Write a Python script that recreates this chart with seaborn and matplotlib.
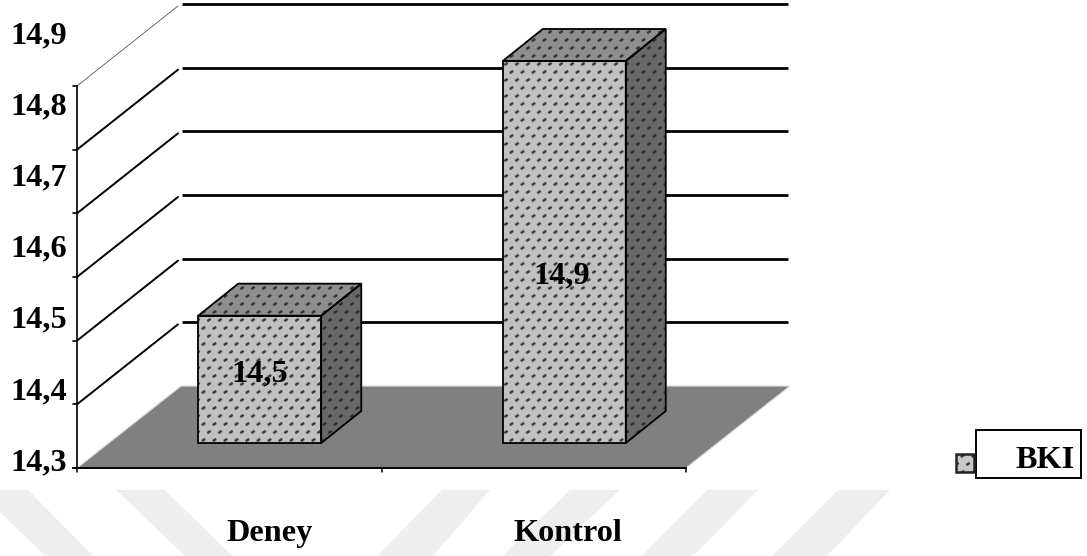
import numpy as np
import matplotlib
matplotlib.use("Agg")
import matplotlib.pyplot as plt
import seaborn as sns
from matplotlib.collections import LineCollection
from matplotlib.patches import Polygon, Rectangle
from matplotlib.transforms import Affine2D

groups = ["Deney", "Kontrol"]
bki_values = [14.5, 14.9]
axis_ticks = [14.3, 14.4, 14.5, 14.6, 14.7, 14.8, 14.9]
legend_label = "BKI"

WIDTH, HEIGHT = 1087, 556
BASE = axis_ticks[0]
SERIF = "Liberation Serif"
FONT_SIZE = 23.2

sns.set_theme(style="white")
plt.rcParams["font.family"] = [SERIF, "DejaVu Sans"]

fig = plt.figure(figsize=(WIDTH / 100, HEIGHT / 100), dpi=100, facecolor="white")
# Layout helper: pixel coordinates measured from the top-left corner.
PX = Affine2D().scale(1, -1).translate(0, HEIGHT)

# Front plane of the 3D box: x axis runs 77..686, values run 468..86 (pixels from top).
ax = fig.add_axes([77 / WIDTH, (HEIGHT - 468) / HEIGHT, 609 / WIDTH, 382 / HEIGHT])
ax.set_facecolor("none")


def add_px(artist):
    artist.set_transform(PX)
    fig.add_artist(artist)
    return artist


# Diagonal watermark bands along the lower edge of the page.
band_shapes = [
    [(0, 490), (28, 490), (93, 556), (45, 556), (0, 512)],
    [(116, 490), (165, 490), (232, 556), (185, 556)],
    [(442, 490), (490, 490), (433, 556), (377, 556)],
    [(570, 490), (620, 490), (550, 556), (502, 556)],
    [(707, 490), (758, 490), (693, 556), (642, 556)],
    [(838, 490), (890, 490), (827, 556), (772, 556)],
]
for shape in band_shapes:
    add_px(Polygon(shape, closed=True, facecolor="#eeeeee", edgecolor="none", zorder=0))

# The bars sit partway into the box, so they are shifted from the front plane.
BAR_SHIFT = (30.5, 25)
BAR_DEPTH = (40, 32)
sns.barplot(x=groups, y=np.array(bki_values) - BASE, bottom=BASE, ax=ax, width=0.404,
            color="#bfbfbf", saturation=1, edgecolor="black", linewidth=1.4)
ax.set_xlim(-0.5, 1.5)
ax.set_ylim(axis_ticks[0], axis_ticks[-1])
ax.axis("off")

# Floor of the box.
WALL_DX, WALL_DY = 104, 82
front_y = HEIGHT - ax.transData.transform([(0, t) for t in axis_ticks])[:, 1]
floor_y = front_y[0]
add_px(Polygon([(77, floor_y), (77 + WALL_DX, floor_y - WALL_DY),
                (790, floor_y - WALL_DY), (686, floor_y)],
               closed=True, facecolor="#808080", edgecolor="#dcdcdc", linewidth=0.9, zorder=1))

# Side wall diagonals and back-wall gridlines, one per tick.
for i, (value, y) in enumerate(zip(axis_ticks, front_y)):
    if i == 0:
        continue
    is_top = value == axis_ticks[-1]
    add_px(plt.Line2D([77, 77 + WALL_DX - 3], [y, y - WALL_DY + 2],
                      color="#555555" if is_top else "black",
                      lw=0.6 if is_top else 1.4, zorder=2))
    add_px(plt.Line2D([77 + WALL_DX + 1, 788], [y - WALL_DY, y - WALL_DY],
                      color="black", lw=2.0, solid_capstyle="butt", zorder=2))

# Value axis, category axis and their tick marks.
add_px(plt.Line2D([77, 77], [front_y[-1], floor_y], color="black", lw=1.2, zorder=5))
add_px(plt.Line2D([73, 686], [floor_y, floor_y], color="black", lw=1.4, zorder=5))
for y in front_y:
    add_px(plt.Line2D([73, 77], [y, y], color="black", lw=1.2, zorder=5))
for x in (77, 381.5, 686):
    add_px(plt.Line2D([x, x], [floor_y, floor_y + 4], color="black", lw=1.1, zorder=5))

# Repeating pattern of short slanted dashes used on every bar face.
rows = np.arange(0, HEIGHT, 8.0)
dash_segments = []
for r, row_y in enumerate(rows):
    for col_x in np.arange(5.5 * (r % 2), WIDTH, 11):
        dash_segments.append([(col_x - 1.7, row_y + 1.1), (col_x + 1.7, row_y - 1.1)])


def stipple(face, color="#262626", zorder=6):
    dots = LineCollection(dash_segments, colors=color, linewidths=1.8, alpha=0.85,
                          transform=PX, zorder=zorder)
    fig.add_artist(dots)
    dots.set_clip_path(face)


for patch in list(ax.patches):
    patch.set_visible(False)
    (x0, y_top), (x1, y_bot) = ax.transData.transform(
        [(patch.get_x(), patch.get_y() + patch.get_height()),
         (patch.get_x() + patch.get_width(), patch.get_y())])
    x0, x1 = x0 + BAR_SHIFT[0], x1 + BAR_SHIFT[0]
    y_top, y_bot = HEIGHT - y_top - BAR_SHIFT[1], HEIGHT - y_bot - BAR_SHIFT[1]
    dx, dy = BAR_DEPTH
    front = [(x0, y_top), (x1, y_top), (x1, y_bot), (x0, y_bot)]
    top = [(x0, y_top), (x1, y_top), (x1 + dx, y_top - dy), (x0 + dx, y_top - dy)]
    side = [(x1, y_top), (x1 + dx, y_top - dy), (x1 + dx, y_bot - dy), (x1, y_bot)]
    for corners, shade in ((top, "#8e8e8e"), (side, "#686868"), (front, "#c0c0c0")):
        face = add_px(Polygon(corners, closed=True, facecolor=shade, edgecolor="none", zorder=5.5))
        stipple(face)
        add_px(Polygon(corners, closed=True, facecolor="none", edgecolor="black",
                       linewidth=1.3, joinstyle="miter", zorder=6.5))

# Value labels printed on the bars.
value_label_px = [(260, 381), (562, 283)]
for value, (x, y) in zip(bki_values, value_label_px):
    fig.text(x / WIDTH, 1 - y / HEIGHT, f"{value:.1f}".replace(".", ","), ha="center", va="baseline",
             fontsize=FONT_SIZE, fontweight="bold", color="black", family=SERIF, zorder=8)

# Axis labels are spread wider than the tick marks they name.
for i, value in enumerate(reversed(axis_ticks)):
    fig.text(10 / WIDTH, 1 - (43 + 71.2 * i) / HEIGHT, f"{value:.1f}".replace(".", ","),
             ha="left", va="baseline", fontsize=FONT_SIZE, fontweight="bold",
             color="black", family=SERIF, zorder=8)

for name, x in zip(groups, (270, 568)):
    fig.text(x / WIDTH, 1 - 541 / HEIGHT, name, ha="center", va="baseline",
             fontsize=FONT_SIZE, fontweight="bold", color="black", family=SERIF, zorder=8)

# Legend: framed name with its swatch attached on the left.
add_px(Rectangle((976, 430), 105, 48, facecolor="white", edgecolor="black", linewidth=1.4, zorder=7))
swatch = add_px(Rectangle((956, 454), 18, 18, facecolor="#c8c8c8", edgecolor="none", zorder=7))
stipple(swatch, zorder=7.2)
add_px(Rectangle((956, 454), 18, 18, facecolor="none", edgecolor="#222222", linewidth=1.8, zorder=7.4))
fig.text(1075 / WIDTH, 1 - 468 / HEIGHT, legend_label, ha="right", va="baseline",
         fontsize=FONT_SIZE, fontweight="bold", color="black", family=SERIF, zorder=8)

fig.savefig("out.png", dpi=100, facecolor="white")
